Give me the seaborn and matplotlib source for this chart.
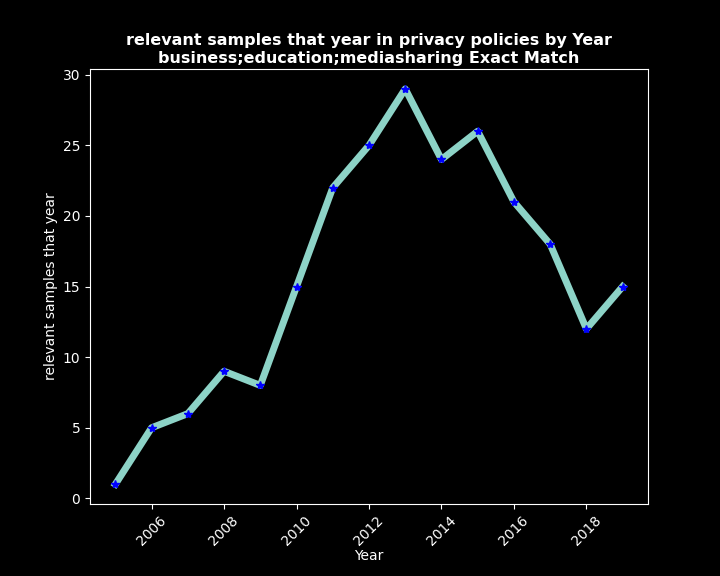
import matplotlib
matplotlib.use("Agg")
import matplotlib.pyplot as plt
import seaborn as sns
import pandas as pd

years = [2005, 2006, 2007, 2008, 2009, 2010, 2011, 2012, 2013, 2014, 2015, 2016, 2017, 2018, 2019]
counts = [1, 5, 6, 9, 8, 15, 22, 25, 29, 24, 26, 21, 18, 12, 15]

plt.style.use("dark_background")
df = pd.DataFrame({"Year": years, "relevant samples that year": counts})

fig, ax = plt.subplots(figsize=(7.2, 5.76), dpi=100)
fig.subplots_adjust(left=0.125, right=0.9, top=0.88, bottom=0.125)
sns.lineplot(data=df, x="Year", y="relevant samples that year", ax=ax,
             color="#8dd3c7", linewidth=5)
ax.plot(df["Year"], df["relevant samples that year"], linestyle="none",
        marker="*", color="blue", markersize=6)
ax.set_title("relevant samples that year in privacy policies by Year\nbusiness;education;mediasharing Exact Match",
             fontweight="bold", fontsize=11.5, pad=4.5)
ax.set_xlabel("Year", labelpad=0.5)
ax.set_ylabel("relevant samples that year", labelpad=3)
ax.tick_params(axis="x", rotation=45)
fig.savefig("out.png", dpi=100)
